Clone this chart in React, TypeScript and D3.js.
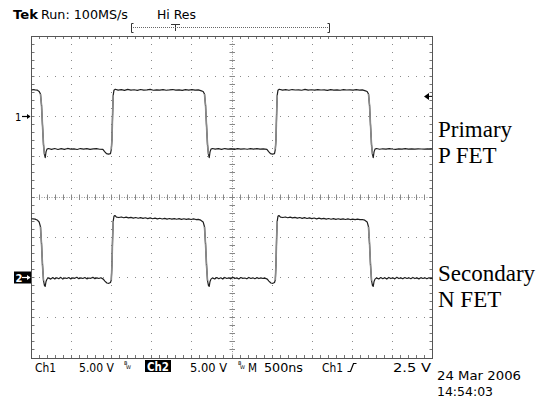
import React from 'react';
import * as d3 from 'd3';

// scope settings
const voltsPerDiv = 5;
const ch1Position = 2;
const ch2Position = -2;
const triggerLevel = 2.5;

// Primary P FET (ch1), time in ns, volts
const ch1TimeNs = [
  0, 20, 45, 70, 95, 112, 125, 137, 150, 162, 171, 181, 193, 212, 250, 290, 330, 370, 410, 450,
  490, 530, 570, 610, 650, 690, 730, 770, 810, 850, 890, 912, 935, 960, 985, 995, 1003, 1011, 1019, 1028,
  1045, 1080, 1120, 1160, 1200, 1240, 1280, 1320, 1360, 1400, 1440, 1480, 1520, 1560, 1600, 1640, 1680, 1720, 1760, 1800,
  1840, 1880, 1920, 1960, 2000, 2040, 2080, 2110, 2140, 2157, 2170, 2182, 2195, 2207, 2216, 2226, 2238, 2257, 2290, 2330,
  2370, 2410, 2450, 2490, 2530, 2570, 2610, 2650, 2690, 2730, 2770, 2810, 2850, 2890, 2935, 2957, 2980, 3005, 3030, 3040,
  3048, 3056, 3064, 3073, 3090, 3130, 3170, 3210, 3250, 3290, 3330, 3370, 3410, 3450, 3490, 3530, 3570, 3610, 3650, 3690,
  3730, 3770, 3810, 3850, 3890, 3930, 3970, 4010, 4050, 4090, 4125, 4155, 4185, 4202, 4215, 4227, 4240, 4252, 4261, 4271,
  4283, 4302, 4340, 4380, 4420, 4460, 4500, 4540, 4580, 4620, 4660, 4700, 4740, 4780, 4820, 4860, 4900, 4940, 4980, 5000,
];
const ch1Volts = [
  3.25, 3.35, 3.31, 3.28, 3.12, 2.8, 1.4, -1.05, -3.55, -4.7, -5.1, -4.4, -4.05, -3.98, -4.08, -3.98, -4.1, -4.0, -4.08, -3.97,
  -4.06, -4.02, -4.1, -3.98, -4.05, -4.0, -4.08, -4.02, -3.99, -4.07, -4.08, -4.35, -4.62, -4.68, -4.62, -4.1, -2.9, 0.2, 2.65, 3.25,
  3.38, 3.27, 3.33, 3.25, 3.36, 3.28, 3.32, 3.25, 3.35, 3.27, 3.3, 3.36, 3.26, 3.31, 3.27, 3.34, 3.26, 3.3, 3.35, 3.27,
  3.31, 3.25, 3.33, 3.28, 3.34, 3.27, 3.3, 3.22, 3.1, 2.8, 1.4, -1.05, -3.55, -4.7, -5.1, -4.4, -4.05, -3.98, -4.06, -4.0,
  -4.08, -3.98, -4.05, -4.02, -4.09, -3.99, -4.06, -4.01, -4.07, -4.0, -4.05, -3.98, -4.06, -4.03, -4.08, -4.35, -4.62, -4.68, -4.62, -4.1,
  -2.9, 0.2, 2.65, 3.25, 3.38, 3.28, 3.33, 3.26, 3.35, 3.29, 3.31, 3.26, 3.36, 3.28, 3.32, 3.27, 3.34, 3.29, 3.31, 3.25,
  3.33, 3.28, 3.3, 3.26, 3.34, 3.29, 3.31, 3.27, 3.33, 3.28, 3.3, 3.22, 3.1, 2.8, 1.4, -1.05, -3.55, -4.7, -5.1, -4.4,
  -4.05, -3.98, -4.07, -4.01, -4.06, -3.99, -4.04, -4.08, -4.02, -4.05, -4.0, -4.06, -4.03, -4.05, -4.02, -4.04, -4.06, -4.03, -4.05, -4.04,
];

// Secondary N FET (ch2), time in ns, volts
const ch2TimeNs = [
  0, 20, 45, 70, 95, 112, 125, 137, 150, 162, 171, 181, 193, 212, 240, 265, 290, 315, 340, 365,
  390, 415, 440, 465, 490, 515, 540, 565, 590, 615, 640, 665, 690, 715, 740, 765, 790, 815, 840, 865,
  895, 915, 940, 965, 985, 995, 1003, 1011, 1019, 1028, 1040, 1060, 1090, 1120, 1150, 1180, 1210, 1240, 1270, 1300,
  1330, 1360, 1390, 1420, 1450, 1480, 1510, 1540, 1570, 1600, 1630, 1660, 1690, 1720, 1750, 1780, 1810, 1840, 1870, 1900,
  1930, 1960, 1990, 2020, 2050, 2080, 2110, 2140, 2157, 2170, 2182, 2195, 2207, 2216, 2226, 2238, 2257, 2285, 2310, 2335,
  2360, 2385, 2410, 2435, 2460, 2485, 2510, 2535, 2560, 2585, 2610, 2635, 2660, 2685, 2710, 2735, 2760, 2785, 2810, 2835,
  2860, 2885, 2910, 2940, 2960, 2985, 3010, 3030, 3040, 3048, 3056, 3064, 3073, 3085, 3105, 3135, 3165, 3195, 3225, 3255,
  3285, 3315, 3345, 3375, 3405, 3435, 3465, 3495, 3525, 3555, 3585, 3615, 3645, 3675, 3705, 3735, 3765, 3795, 3825, 3855,
  3885, 3915, 3945, 3975, 4005, 4035, 4065, 4095, 4125, 4155, 4185, 4202, 4215, 4227, 4240, 4252, 4261, 4271, 4283, 4302,
  4330, 4355, 4380, 4405, 4430, 4455, 4480, 4505, 4530, 4555, 4580, 4605, 4630, 4655, 4680, 4705, 4730, 4755, 4780, 4805,
  4830, 4855, 4880, 4905, 4930, 4955, 4980, 5000,
];
const ch2Volts = [
  7.3, 7.28, 7.25, 7.15, 6.9, 6.3, 4.2, 1.6, -0.4, -1.0, -1.1, -0.5, -0.2, -0.05, -0.2, 0.0, -0.18, -0.02, -0.15, 0.02,
  -0.2, -0.05, -0.12, 0.0, -0.18, -0.04, -0.1, 0.03, -0.15, -0.05, -0.12, 0.0, -0.17, -0.06, -0.1, 0.02, -0.14, -0.05, -0.12, -0.03,
  -0.2, -0.45, -0.68, -0.72, -0.62, -0.3, 1.5, 4.8, 7.0, 7.6, 7.7, 7.5, 7.45, 7.52, 7.42, 7.5, 7.4, 7.47, 7.38, 7.45,
  7.36, 7.43, 7.34, 7.42, 7.32, 7.4, 7.3, 7.38, 7.29, 7.36, 7.27, 7.35, 7.26, 7.33, 7.25, 7.32, 7.24, 7.31, 7.23, 7.3,
  7.22, 7.29, 7.21, 7.28, 7.2, 7.22, 7.12, 6.9, 6.3, 4.2, 1.6, -0.4, -1.0, -1.1, -0.5, -0.2, -0.05, -0.18, 0.0, -0.15,
  -0.03, -0.19, 0.01, -0.12, -0.04, -0.17, 0.02, -0.13, -0.05, -0.18, 0.0, -0.11, -0.06, -0.16, 0.01, -0.12, -0.04, -0.15, -0.02, -0.13,
  -0.05, -0.12, -0.08, -0.2, -0.45, -0.68, -0.72, -0.62, -0.3, 1.5, 4.8, 7.0, 7.6, 7.7, 7.5, 7.45, 7.52, 7.42, 7.5, 7.4,
  7.47, 7.37, 7.45, 7.35, 7.43, 7.33, 7.41, 7.31, 7.39, 7.29, 7.37, 7.28, 7.35, 7.26, 7.33, 7.24, 7.31, 7.23, 7.3, 7.22,
  7.29, 7.21, 7.28, 7.2, 7.26, 7.19, 7.25, 7.18, 7.2, 7.12, 6.9, 6.3, 4.2, 1.6, -0.4, -1.0, -1.1, -0.5, -0.2, -0.05,
  -0.18, 0.0, -0.15, -0.02, -0.19, 0.01, -0.13, -0.04, -0.17, 0.02, -0.12, -0.05, -0.16, 0.0, -0.12, -0.04, -0.15, 0.01, -0.13, -0.05,
  -0.17, -0.02, -0.12, -0.04, -0.16, -0.03, -0.14, -0.08,
];

const scopeFont = '"DejaVu Sans", sans-serif';
const labelFont = '"Liberation Serif", "Times New Roman", serif';

const App: React.FC = () => {
  const width = 544;
  const height = 401;
  const left = 31.5;
  const right = 432.5;
  const top = 36;
  const bottom = 358;

  const x = d3.scaleLinear().domain([0, 5000]).range([left, right]);
  const yDiv = d3.scaleLinear().domain([-4, 4]).range([bottom, top]);
  const y1 = (v: number) => yDiv(v / voltsPerDiv + ch1Position);
  const y2 = (v: number) => yDiv(v / voltsPerDiv + ch2Position);

  const ch1Pts = ch1TimeNs.map((t, i) => [x(t), y1(ch1Volts[i])] as [number, number]);
  const ch2Pts = ch2TimeNs.map((t, i) => [x(t), y2(ch2Volts[i])] as [number, number]);
  const line = d3.line();

  // steep edges are dimmer on the scope
  const steep = (pts: [number, number][]) =>
    pts.slice(1).map((p, i) => [pts[i], p]).filter(([a, b]) => Math.abs(b[1] - a[1]) > 6);

  const majorX = d3.range(500, 5000, 500);
  const majorY = d3.range(-3, 4, 1);
  const minorX = d3.range(0, 5001, 100);
  const minorY = d3.range(-4, 4.001, 0.2);

  const dots: { cx: number; cy: number }[] = [];
  majorX.filter((t) => t !== 2500).forEach((t) => {
    minorY.forEach((d) => dots.push({ cx: x(t), cy: yDiv(d) }));
  });
  majorY.filter((d) => d !== 0).forEach((d) => {
    minorX.forEach((t) => dots.push({ cx: x(t), cy: yDiv(d) }));
  });

  const cx = x(2500);
  const cy = yDiv(0);
  const trigY = y1(triggerLevel);

  return (
    <svg width={width} height={height} style={{ position: 'absolute', left: 0, top: 0, background: '#fff' }}>
      {/* top status line */}
      <text x={13} y={19} fontFamily={scopeFont} fontSize={12} fontWeight="bold" textLength={25} lengthAdjust="spacingAndGlyphs">Tek</text>
      <text x={41} y={19} fontFamily={scopeFont} fontSize={12} textLength={87} lengthAdjust="spacingAndGlyphs">Run: 100MS/s</text>
      <text x={157} y={19} fontFamily={scopeFont} fontSize={12} textLength={39} lengthAdjust="spacingAndGlyphs">Hi Res</text>
      <g stroke="#333" fill="none" strokeWidth={1}>
        <path d="M133.5,23.5 H131.5 V32.5 H133.5" />
        <path d="M327.5,23.5 H329.5 V32.5 H327.5" />
        <path d="M171,24.5 H180 M175.5,24.5 V31" />
      </g>
      <line x1={133} x2={328} y1={27.5} y2={27.5} stroke="#666" strokeDasharray="1 1" />

      {/* graticule dots */}
      {dots.map((d, i) => (
        <rect key={i} x={Math.floor(d.cx)} y={Math.floor(d.cy)} width={1} height={1} fill="#8a8a8a" />
      ))}

      {/* center lines */}
      <line x1={left} x2={right} y1={Math.floor(cy) + 0.5} y2={Math.floor(cy) + 0.5} stroke="#9a9a9a" strokeDasharray="1 1.5" />
      <line x1={Math.floor(cx) + 0.5} x2={Math.floor(cx) + 0.5} y1={top} y2={bottom} stroke="#9a9a9a" strokeDasharray="1 1.5" />
      {minorX.map((t) => (
        <line key={'cx' + t} x1={Math.floor(x(t)) + 0.5} x2={Math.floor(x(t)) + 0.5} y1={cy - 2.5} y2={cy + 3} stroke="#888" />
      ))}
      {minorY.map((d) => (
        <line key={'cy' + d} x1={cx - 2.5} x2={cx + 3} y1={Math.floor(yDiv(d)) + 0.5} y2={Math.floor(yDiv(d)) + 0.5} stroke="#888" />
      ))}

      {/* frame with edge ticks */}
      {minorX.map((t) => (
        <g key={'fx' + t} stroke="#777">
          <line x1={Math.floor(x(t)) + 0.5} x2={Math.floor(x(t)) + 0.5} y1={top} y2={top + 3} />
          <line x1={Math.floor(x(t)) + 0.5} x2={Math.floor(x(t)) + 0.5} y1={bottom - 3} y2={bottom} />
        </g>
      ))}
      {minorY.map((d) => (
        <g key={'fy' + d} stroke="#777">
          <line x1={left} x2={left + 3} y1={Math.floor(yDiv(d)) + 0.5} y2={Math.floor(yDiv(d)) + 0.5} />
          <line x1={right - 3} x2={right} y1={Math.floor(yDiv(d)) + 0.5} y2={Math.floor(yDiv(d)) + 0.5} />
        </g>
      ))}
      <rect x={left} y={top + 0.5} width={right - left} height={bottom - top} fill="none" stroke="#555" />

      {/* traces */}
      <path d={line(ch1Pts) ?? ''} fill="none" stroke="#1e1e1e" strokeWidth={1.2} strokeLinejoin="round" />
      <path d={line(ch2Pts) ?? ''} fill="none" stroke="#1e1e1e" strokeWidth={1.2} strokeLinejoin="round" />
      {[...steep(ch1Pts), ...steep(ch2Pts)].map(([a, b], i) => (
        <line key={'s' + i} x1={a[0]} y1={a[1]} x2={b[0]} y2={b[1]} stroke="#8a8a8a" strokeWidth={1.6} />
      ))}

      {/* channel ground markers */}
      <text x={15} y={120.5} fontFamily={scopeFont} fontSize={10}>1</text>
      <path d={`M22,${y1(0)} H30`} stroke="#000" strokeWidth={1.2} />
      <path d={`M27,${y1(0) - 2.5} L30.5,${y1(0)} L27,${y1(0) + 2.5} Z`} fill="#000" />
      <rect x={14} y={y2(0) - 6} width={17} height={12} fill="#000" />
      <text x={15.5} y={y2(0) + 4} fontFamily={scopeFont} fontSize={10} fontWeight="bold" fill="#fff">2</text>
      <path d={`M22,${y2(0)} H30`} stroke="#fff" strokeWidth={1.2} />
      <path d={`M27,${y2(0) - 2.5} L30.5,${y2(0)} L27,${y2(0) + 2.5} Z`} fill="#fff" />

      {/* trigger level marker */}
      <path d={`M424,${trigY} L429,${trigY - 3.5} L429,${trigY + 3.5} Z`} fill="#000" />
      <line x1={429} x2={432} y1={trigY} y2={trigY} stroke="#000" />

      {/* bottom status line */}
      <g fontFamily={scopeFont} fontSize={12} fill="#000">
        <text x={35} y={372} textLength={21} lengthAdjust="spacingAndGlyphs">Ch1</text>
        <text x={79} y={372} textLength={35} lengthAdjust="spacingAndGlyphs">5.00 V</text>
        <text x={124} y={365} fontSize={5}>B</text>
        <text x={126} y={369} fontSize={5}>W</text>
        <rect x={145} y={360} width={26} height={12} fill="#000" />
        <text x={147} y={370.5} fill="#fff" fontWeight="bold" textLength={22} lengthAdjust="spacingAndGlyphs">Ch2</text>
        <text x={190} y={372} textLength={37} lengthAdjust="spacingAndGlyphs">5.00 V</text>
        <text x={238} y={365} fontSize={5}>B</text>
        <text x={240} y={369} fontSize={5}>W</text>
        <text x={248} y={372} textLength={9} lengthAdjust="spacingAndGlyphs">M</text>
        <text x={264} y={372} textLength={39} lengthAdjust="spacingAndGlyphs">500ns</text>
        <text x={322} y={372} textLength={21} lengthAdjust="spacingAndGlyphs">Ch1</text>
        <text x={393} y={372} textLength={38} lengthAdjust="spacingAndGlyphs">2.5 V</text>
        <text x={437} y={380} fontSize={12.5} textLength={84} lengthAdjust="spacingAndGlyphs">24 Mar 2006</text>
        <text x={437} y={396} fontSize={12.5} textLength={56} lengthAdjust="spacingAndGlyphs">14:54:03</text>
      </g>
      <path d="M347.5,371.5 H350.5 L353.5,363.5 H356.5" fill="none" stroke="#000" strokeWidth={1.2} />

      {/* channel labels */}
      <g fontFamily={labelFont} fontSize={23} fill="#000">
        <text x={438} y={137}>Primary</text>
        <text x={438} y={163}>P FET</text>
        <text x={438} y={281}>Secondary</text>
        <text x={438} y={307}>N FET</text>
      </g>
    </svg>
  );
};

export default App;
